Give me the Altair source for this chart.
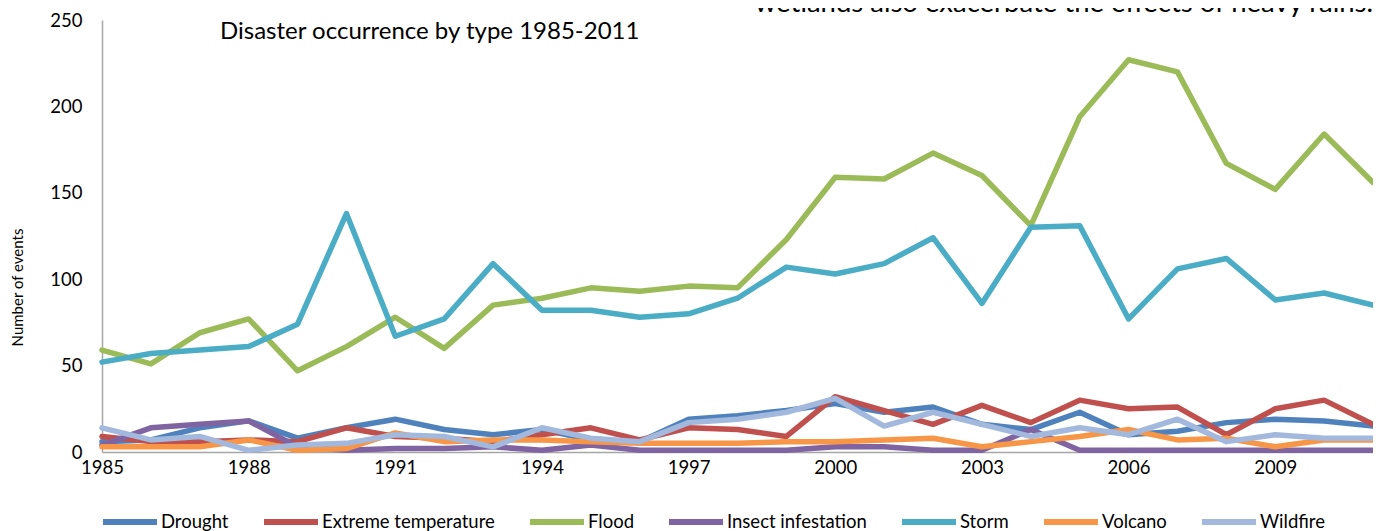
import altair as alt
import pandas as pd

years = list(range(1985, 2012))
tick_years = [1985, 1988, 1991, 1994, 1997, 2000, 2003, 2006, 2009]
y_ticks = [0, 50, 100, 150, 200, 250]

series_names = ["Drought", "Extreme temperature", "Flood", "Insect infestation",
                "Storm", "Volcano", "Wildfire"]
colors = ["#4F81BD", "#C0504D", "#9BBB59", "#8064A2", "#4BACC6", "#F79646", "#A2B8DD"]

drought = [6, 7, 14, 18, 8, 14, 19, 13, 10, 13, 7, 6, 19, 21, 24, 28, 23, 26, 16, 13, 23, 10, 12, 17, 19, 18, 15]
extreme_temp = [9, 6, 6, 7, 6, 14, 9, 8, 6, 10, 14, 7, 14, 13, 9, 32, 24, 16, 27, 17, 30, 25, 26, 10, 25, 30, 16]
flood = [59, 51, 69, 77, 47, 61, 78, 60, 85, 89, 95, 93, 96, 95, 123, 159, 158, 173, 160, 131, 194, 227, 220, 167, 152, 184, 156]
insect = [4, 14, 16, 18, 3, 1, 2, 2, 3, 1, 4, 1, 1, 1, 1, 3, 3, 1, 1, 13, 1, 1, 1, 1, 1, 1, 1]
storm = [52, 57, 59, 61, 74, 138, 67, 77, 109, 82, 82, 78, 80, 89, 107, 103, 109, 124, 86, 130, 131, 77, 106, 112, 88, 92, 85]
volcano = [3, 3, 3, 7, 1, 2, 11, 6, 7, 7, 6, 5, 5, 5, 6, 6, 7, 8, 3, 6, 9, 13, 7, 8, 3, 7, 7]
wildfire = [14, 7, 9, 1, 4, 5, 10, 9, 3, 14, 8, 6, 17, 19, 23, 31, 15, 23, 16, 9, 14, 10, 19, 6, 10, 8, 8]

chart_title = "Disaster occurrence by type 1985-2011"
top_text = "wetlands also exacerbate the effects of heavy rains."

all_series = [drought, extreme_temp, flood, insect, storm, volcano, wildfire]
rows = []
for name, vals in zip(series_names, all_series):
    for yr, v in zip(years, vals):
        rows.append({"Year": yr, "Type": name, "Events": v})
df = pd.DataFrame(rows)

FONT = "Lato"
W, H = 1271, 432

lines = alt.Chart(df).mark_line(strokeWidth=5.5, strokeCap="round", strokeJoin="round").encode(
    x=alt.X("Year:Q",
            scale=alt.Scale(domain=[1985, 2011], nice=False, zero=False),
            axis=alt.Axis(values=tick_years, format="d", title=None, ticks=False, grid=False,
                          labelFontSize=18.5, labelFont=FONT, labelColor="#000000",
                          labelFlush=False, labelPadding=6,
                          domainColor="#A6A6A6", domainWidth=1.5)),
    y=alt.Y("Events:Q",
            scale=alt.Scale(domain=[0, 250], nice=False),
            axis=alt.Axis(values=y_ticks, title="Number of events", ticks=False, grid=False,
                          labelFontSize=18.5, labelFont=FONT, labelColor="#000000",
                          labelFlush=False, labelPadding=20,
                          domainColor="#A6A6A6", domainWidth=1.5,
                          titleFont=FONT, titleFontSize=15, titleFontWeight="normal",
                          titleColor="#000000", titleX=-85, titleY=267, titleAngle=-90,
                          titleAlign="center", titleBaseline="middle")),
    color=alt.Color("Type:N",
                    scale=alt.Scale(domain=series_names, range=colors),
                    legend=alt.Legend(title=None, orient="none", direction="horizontal",
                                      columns=7, legendX=-2, legendY=472, padding=0,
                                      symbolType="stroke", symbolSize=2916,
                                      symbolStrokeWidth=6, labelFontSize=18.5,
                                      labelFont=FONT, labelColor="#000000", labelLimit=0,
                                      labelOffset=1, columnPadding=23)),
)

title_layer = alt.Chart(pd.DataFrame({"t": [chart_title]})).mark_text(
    align="left", baseline="middle", fontSize=24, font=FONT, color="#000000"
).encode(text="t:N", x=alt.value(118), y=alt.value(12))

top_layer = alt.Chart(pd.DataFrame({"t": [top_text]})).mark_text(
    align="right", baseline="alphabetic", fontSize=27.5, font=FONT, color="#000000"
).encode(text="t:N", x=alt.value(W), y=alt.value(-8))

chart = alt.layer(lines, title_layer, top_layer).properties(
    width=W, height=H,
    autosize=alt.AutoSizeParams(type="none"),
    padding={"left": 94, "top": 12, "right": 0, "bottom": 79},
).configure_view(stroke=None)

chart.save("out.html", embed_options={"renderer": "svg", "actions": False})
